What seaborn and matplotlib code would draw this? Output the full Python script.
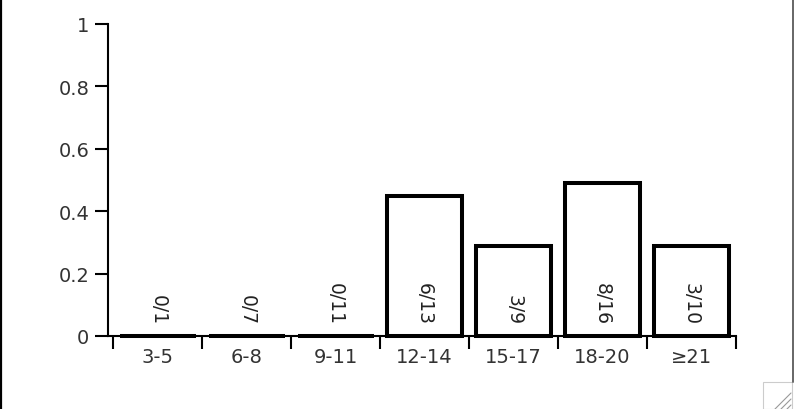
import pandas as pd
import matplotlib
matplotlib.use("Agg")
import matplotlib.pyplot as plt
from matplotlib.lines import Line2D
from matplotlib.patches import Rectangle
import seaborn as sns

# --- datos ---
grupos = ['3-5', '6-8', '9-11', '12-14', '15-17', '18-20', '≥21']
proporcion = [0.0, 0.0, 0.0, 0.45, 0.29, 0.49, 0.29]
etiquetas = ['0/1', '0/7', '0/11', '6/13', '3/9', '8/16', '3/10']

df = pd.DataFrame({'grupo': grupos, 'prop': proporcion})

sns.set_theme(style="white")
plt.rcParams['font.family'] = ['DejaVu Sans']

W, H = 794, 410
fig = plt.figure(figsize=(W / 100, H / 100), dpi=100)
# ejes ubicados en pixeles: izquierda 108, derecha 736, arriba 25, abajo 337
ax = fig.add_axes([108 / W, (H - 337) / H, (736 - 108) / W, (337 - 25) / H])

sns.barplot(data=df, x='grupo', y='prop', order=grupos, width=0.85,
            color='white', edgecolor='black', linewidth=2.9, ax=ax)
# las barras en cero deben verse como una linea gruesa completa
for barra in ax.patches:
    barra.set_clip_on(False)
    barra.set_zorder(3)

for i, txt in enumerate(etiquetas):
    ax.text(i, 0.038, txt, rotation=-90, ha='center', va='bottom',
            fontsize=13.5, color='#222222')

ax.set_xlim(-0.56, 6.5)
ax.set_ylim(0, 1)
ax.set_yticks([0, 0.2, 0.4, 0.6, 0.8, 1])
ax.set_yticklabels(['0', '0.2', '0.4', '0.6', '0.8', '1'])
ax.set_xticks(range(len(grupos)))
ax.set_xticklabels(grupos)
ax.set_xticks([i - 0.5 for i in range(len(grupos) + 1)], minor=True)

ax.tick_params(axis='y', which='major', direction='out', length=9.5, width=1.5,
               color='black', labelsize=14, labelcolor='#333333', pad=4, left=True)
ax.tick_params(axis='x', which='major', length=0, labelsize=14,
               labelcolor='#333333', pad=8)
ax.tick_params(axis='x', which='minor', direction='out', length=9.5, width=1.5,
               color='black', bottom=True)

for lado in ['top', 'right']:
    ax.spines[lado].set_visible(False)
for lado in ['left', 'bottom']:
    ax.spines[lado].set_color('black')
    ax.spines[lado].set_linewidth(1.5)
ax.set_xlabel('')
ax.set_ylabel('')
ax.grid(False)

# borde de la ventana
fig.add_artist(Line2D([1 / W, 1 / W], [0, 1], color='black', lw=1.6))
fig.add_artist(Line2D([792.5 / W, 792.5 / W], [27 / H, 1], color='#666666', lw=1.4))
fig.add_artist(Rectangle((763 / W, 0), 29 / W, 27 / H, facecolor='white',
                         edgecolor='#cccccc', lw=0.8))
for d in [0, 6, 12]:
    fig.add_artist(Line2D([(775 + d) / W, 791 / W], [0, (16 - d) / H],
                          color='#999999', lw=0.8))

fig.savefig('out.png', dpi=100)
